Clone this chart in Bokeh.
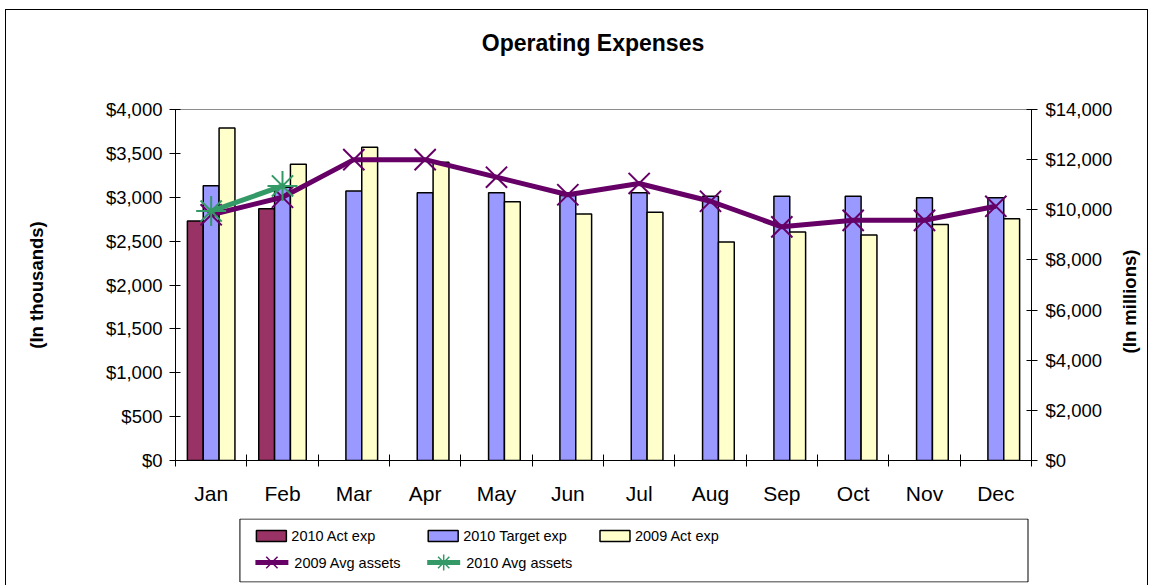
import numpy as np
from bokeh.plotting import figure
from bokeh.layouts import column, row
from bokeh.models import (Range1d, LinearAxis, FixedTicker, NumeralTickFormatter)
from bokeh.core.properties import value
from bokeh.embed import file_html
from bokeh.resources import INLINE

# ---------------- data ----------------
months = ["Jan", "Feb", "Mar", "Apr", "May", "Jun",
          "Jul", "Aug", "Sep", "Oct", "Nov", "Dec"]
act_exp_2010 = [2730, 2870]
target_exp_2010 = [3130, 3115, 3070, 3050, 3050, 3020, 3050, 3010, 3010, 3010, 2995, 2995]
act_exp_2009 = [3790, 3375, 3570, 3400, 2950, 2810, 2830, 2490, 2605, 2570, 2690, 2755]
avg_assets_2009 = [9800, 10500, 12000, 12000, 11300, 10600, 11050, 10340, 9320, 9580, 9580, 10140]
avg_assets_2010 = [9950, 10950]
left_ticks = [0, 500, 1000, 1500, 2000, 2500, 3000, 3500, 4000]
right_ticks = [0, 2000, 4000, 6000, 8000, 10000, 12000, 14000]
bar_labels = ["2010 Act exp", "2010 Target exp", "2009 Act exp"]
line_labels = ["2009 Avg assets", "2010 Avg assets"]
title_text = "Operating Expenses"
left_title = "(In thousands)"
right_title = "(In millions)"

# ---------------- styles ----------------
FONT = "Liberation Sans"
C_ACT10, C_TGT10, C_ACT09 = "#993366", "#9999FF", "#FFFFCC"
C_AST09, C_AST10 = "#660066", "#339966"

# page geometry (outer chart border x=5..1150, y=9..)
OX, OY = 6, 10                 # content origin inside the 1px border
SPLIT = 1115                   # right strip (right axis title) 1115..1149
CW = SPLIT - OX                # width of the main column
RW = 1149 - SPLIT
F_LEFT, F_TOP, F_RIGHT, F_BOTTOM = 175, 110, 1032, 461
HDR_BOTTOM = 70                # header strip (title) 10..70
LEG_TOP, LEG_BOTTOM = 519, 583
PAGE_H = 586
BL, BR = F_LEFT - OX, OX + CW - F_RIGHT
BORDER = "1px solid black"

# ---------------- header (title) ----------------
hd = figure(width=CW, height=HDR_BOTTOM - OY, output_backend="svg", toolbar_location=None,
            x_range=Range1d(F_LEFT, F_RIGHT), y_range=Range1d(HDR_BOTTOM, OY),
            x_axis_location=None, y_axis_location=None,
            min_border_left=BL, min_border_right=BR, min_border_top=0, min_border_bottom=0,
            styles={"margin-left": "5px", "margin-top": "9px", "border-left": BORDER,
                    "border-top": BORDER})
hd.grid.visible = False
hd.outline_line_color = None
hd.border_fill_color = "white"
hd.text(x=[593], y=[42.5], text=[title_text], text_font=value(FONT),
        text_font_style="bold", text_font_size=value("23px"),
        text_align="center", text_baseline="middle", text_color="black")

# ---------------- main chart ----------------
H1 = LEG_TOP - HDR_BOTTOM
p = figure(width=CW, height=H1, output_backend="svg", toolbar_location=None,
           x_range=Range1d(0.5, 12.5), y_range=Range1d(0, 4000),
           min_border_left=BL, min_border_right=BR,
           min_border_top=F_TOP - HDR_BOTTOM, min_border_bottom=LEG_TOP - F_BOTTOM,
           styles={"margin-left": "5px", "border-left": BORDER})
p.extra_y_ranges = {"assets": Range1d(0, 14000)}
p.grid.visible = False
p.outline_line_color = "#8c8c8c"
p.background_fill_color = "white"
p.border_fill_color = "white"

x = np.arange(1, 13, dtype=float)
bw = 1 / 4.5

p.vbar(x=x[:len(act_exp_2010)] - bw, top=act_exp_2010, width=bw,
       fill_color=C_ACT10, line_color="black", line_width=1.5)
p.vbar(x=x, top=target_exp_2010, width=bw,
       fill_color=C_TGT10, line_color="black", line_width=1.5)
p.vbar(x=x + bw, top=act_exp_2009, width=bw,
       fill_color=C_ACT09, line_color="black", line_width=1.5)

p.line(x, avg_assets_2009, y_range_name="assets", line_color=C_AST09, line_width=5)
p.scatter(x, avg_assets_2009, y_range_name="assets", marker="x", size=30,
          line_color=C_AST09, line_width=2)
p.line(x[:len(avg_assets_2010)], avg_assets_2010, y_range_name="assets",
       line_color=C_AST10, line_width=5)
p.scatter(x[:len(avg_assets_2010)], avg_assets_2010, y_range_name="assets",
          marker="asterisk", size=30, line_color=C_AST10, line_width=2)

xa = p.xaxis[0]
xa.ticker = FixedTicker(ticks=list(x), minor_ticks=[k + 0.5 for k in range(13)])
xa.major_label_overrides = {int(i + 1): m for i, m in enumerate(months)}
xa.major_tick_out = 0
xa.major_tick_in = 0
xa.minor_tick_out = 6
xa.minor_tick_in = 6
xa.minor_tick_line_color = "black"
xa.axis_line_color = "black"
xa.major_label_standoff = 15
xa.major_label_text_font = FONT
xa.major_label_text_font_size = "21px"
xa.major_label_text_color = "black"

def style_y(ax, standoff):
    ax.major_tick_out = 6
    ax.major_tick_in = 5
    ax.minor_tick_line_color = None
    ax.axis_line_color = "black"
    ax.major_tick_line_color = "black"
    ax.major_label_standoff = standoff
    ax.major_label_text_font = FONT
    ax.major_label_text_font_size = "18.5px"
    ax.major_label_text_color = "black"
    ax.axis_label_text_font = FONT
    ax.axis_label_text_font_style = "bold"
    ax.axis_label_text_font_size = "18.5px"
    ax.axis_label_text_color = "black"

ya = p.yaxis[0]
ya.ticker = FixedTicker(ticks=left_ticks)
ya.formatter = NumeralTickFormatter(format="$0,0")
ya.axis_label = left_title
style_y(ya, 7)
ya.axis_label_standoff = 56

ra = LinearAxis(y_range_name="assets", ticker=FixedTicker(ticks=right_ticks),
                formatter=NumeralTickFormatter(format="$0,0"))
style_y(ra, 8)
p.add_layout(ra, "right")

# ---------------- legend strip ----------------
H2 = PAGE_H - LEG_TOP
lg = figure(width=CW, height=H2, output_backend="svg", toolbar_location=None,
            x_range=Range1d(F_LEFT, F_RIGHT), y_range=Range1d(LEG_BOTTOM, LEG_TOP),
            x_axis_location=None, y_axis_location=None,
            min_border_left=BL, min_border_right=BR,
            min_border_top=0, min_border_bottom=PAGE_H - LEG_BOTTOM,
            styles={"margin-left": "5px", "border-left": BORDER})
lg.grid.visible = False
lg.outline_line_color = None
lg.border_fill_color = "white"

lg.quad(left=[239.5], right=[1028.5], top=[LEG_TOP + 0.5], bottom=[LEG_BOTTOM - 0.5],
        fill_color=None, line_color="black", line_width=1)

row1, row2 = 536.5, 563
sw_left = [256, 428, 600]
lg.rect(x=[s + 15 for s in sw_left], y=[row1] * 3, width=30, height=11,
        fill_color=[C_ACT10, C_TGT10, C_ACT09], line_color="black", line_width=1.5)
lg.text(x=[s + 35 for s in sw_left], y=[row1] * 3, text=bar_labels,
        text_font=value(FONT), text_font_size=value("14.5px"),
        text_baseline="middle", text_color="black")
for s, col in zip(sw_left[:2], [C_AST09, C_AST10]):
    lg.line(x=[s - 1, s + 32], y=[row2, row2], line_color=col, line_width=5)
lg.scatter(x=[sw_left[0] + 15.5], y=[row2], marker="x", size=16,
           line_color=C_AST09, line_width=1.5)
lg.scatter(x=[sw_left[1] + 15.5], y=[row2], marker="asterisk", size=16,
           line_color=C_AST10, line_width=1.5)
lg.text(x=[s + 38 for s in sw_left[:2]], y=[row2] * 2, text=line_labels,
        text_font=value(FONT), text_font_size=value("14.5px"),
        text_baseline="middle", text_color="black")

# ---------------- right strip (right axis title) ----------------
rs = figure(width=RW, height=PAGE_H - OY, output_backend="svg", toolbar_location=None,
            x_range=Range1d(SPLIT, SPLIT + RW), y_range=Range1d(0, PAGE_H - OY),
            x_axis_location=None, y_axis_location=None,
            min_border_left=0, min_border_right=0, min_border_top=0, min_border_bottom=0,
            styles={"margin-top": "9px", "border-top": BORDER, "border-right": BORDER})
rs.grid.visible = False
rs.outline_line_color = None
rs.border_fill_color = "white"
rs.background_fill_color = "white"
rs.text(x=[1130], y=[PAGE_H - 301], text=[right_title], angle=np.pi / 2,
        text_font=value(FONT), text_font_style="bold", text_font_size=value("18.5px"),
        text_align="center", text_baseline="middle", text_color="black")

layout = row(column(hd, p, lg, spacing=0), rs, spacing=0)
open("out.html", "w").write(file_html(layout, INLINE))
